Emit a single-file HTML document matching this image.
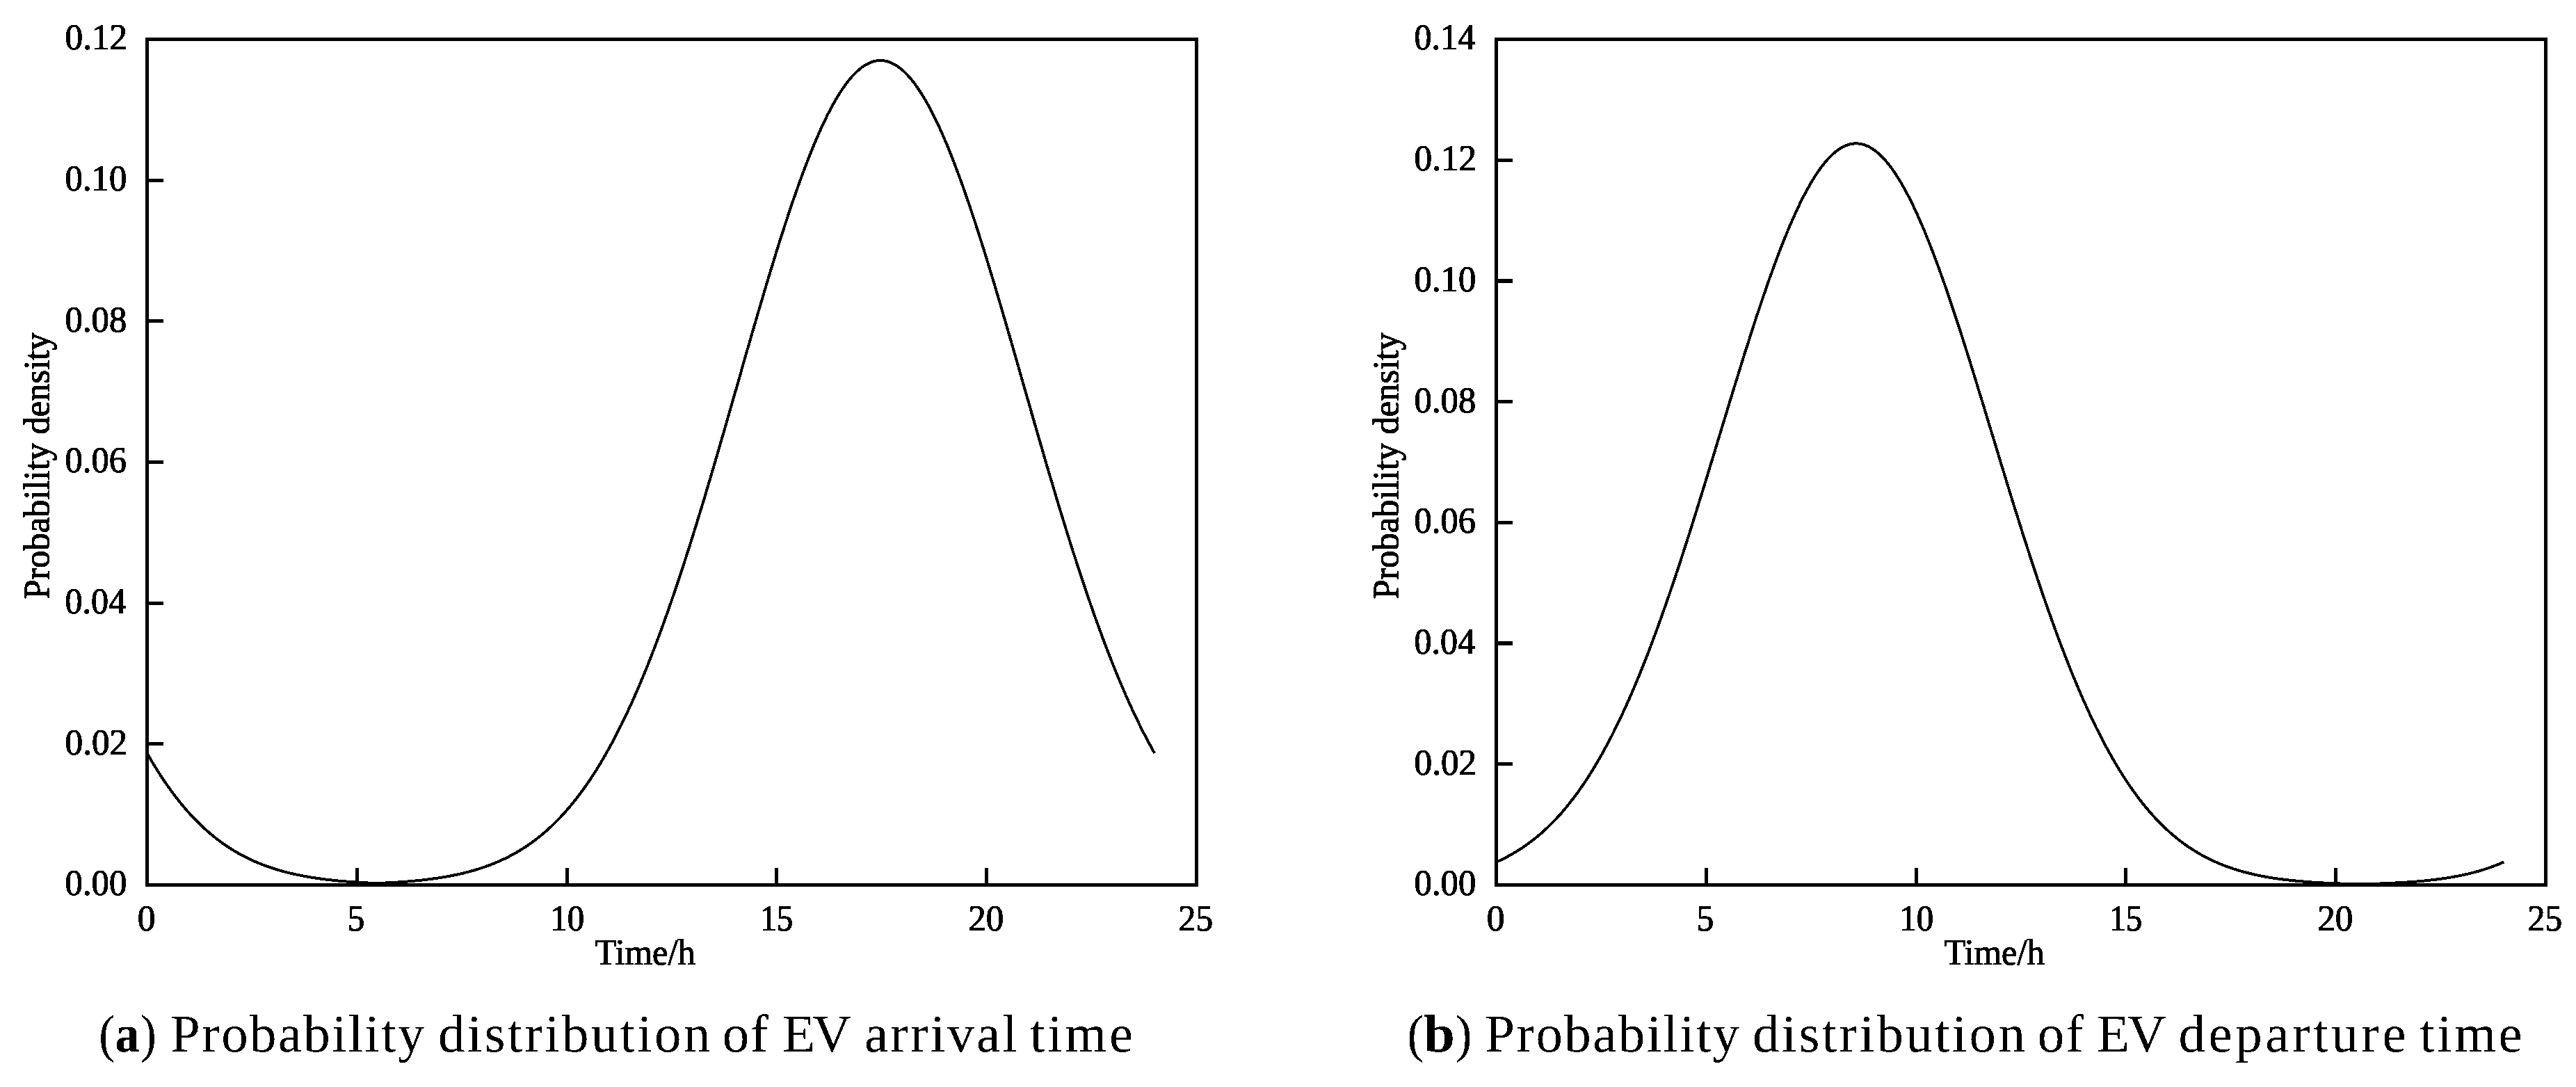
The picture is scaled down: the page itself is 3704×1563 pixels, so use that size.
<!DOCTYPE html>
<html><head><meta charset="utf-8"><title>EV arrival and departure time probability distributions</title>
<style>
html,body{margin:0;padding:0;background:#fff;}
body{width:3704px;height:1563px;overflow:hidden;}
svg{display:block;}
.t{font-family:"Liberation Serif","Times New Roman",serif;font-size:53.4px;fill:#000;stroke:#000;stroke-width:1.2px;}
.c{font-family:"Liberation Serif","Times New Roman",serif;font-size:77px;fill:#000;stroke:#000;stroke-width:0.0px;}
.b{font-weight:bold;}
</style></head>
<body>
<svg width="3704" height="1563" viewBox="0 0 3704 1563">
<defs><filter id="alias" x="0" y="0" width="100%" height="100%" filterUnits="userSpaceOnUse"><feComponentTransfer><feFuncA type="discrete" tableValues="0 1"/></feComponentTransfer></filter></defs>
<rect width="3704" height="1563" fill="#fff"/>
<g filter="url(#alias)">
<path d="M211.5,1083.0 L214.5,1088.3 L217.5,1093.4 L220.6,1098.5 L223.6,1103.4 L226.6,1108.3 L229.6,1113.0 L232.6,1117.6 L235.6,1122.2 L238.7,1126.6 L241.7,1130.9 L244.7,1135.1 L247.7,1139.3 L250.7,1143.3 L253.8,1147.3 L256.8,1151.1 L259.8,1154.9 L262.8,1158.5 L265.8,1162.1 L268.8,1165.6 L271.9,1169.0 L274.9,1172.3 L277.9,1175.5 L280.9,1178.6 L283.9,1181.7 L286.9,1184.7 L290.0,1187.6 L293.0,1190.4 L296.0,1193.1 L299.0,1195.8 L302.0,1198.4 L305.1,1200.9 L308.1,1203.4 L311.1,1205.8 L314.1,1208.1 L317.1,1210.3 L320.1,1212.5 L323.2,1214.6 L326.2,1216.7 L329.2,1218.7 L332.2,1220.6 L335.2,1222.5 L338.3,1224.3 L341.3,1226.1 L344.3,1227.8 L347.3,1229.4 L350.3,1231.0 L353.3,1232.6 L356.4,1234.1 L359.4,1235.5 L362.4,1236.9 L365.4,1238.3 L368.4,1239.6 L371.5,1240.9 L374.5,1242.1 L377.5,1243.3 L380.5,1244.4 L383.5,1245.5 L386.5,1246.6 L389.6,1247.6 L392.6,1248.6 L395.6,1249.6 L398.6,1250.5 L401.6,1251.4 L404.7,1252.3 L407.7,1253.1 L410.7,1253.9 L413.7,1254.7 L416.7,1255.4 L419.7,1256.1 L422.8,1256.8 L425.8,1257.5 L428.8,1258.1 L431.8,1258.7 L434.8,1259.3 L437.9,1259.9 L440.9,1260.4 L443.9,1261.0 L446.9,1261.5 L449.9,1262.0 L452.9,1262.4 L456.0,1262.9 L459.0,1263.3 L462.0,1263.7 L465.0,1264.1 L468.0,1264.5 L471.0,1264.9 L474.1,1265.2 L477.1,1265.5 L480.1,1265.9 L483.1,1266.2 L486.1,1266.5 L489.2,1266.7 L492.2,1267.0 L495.2,1267.3 L498.2,1267.5 L501.2,1267.7 L504.2,1268.0 L507.3,1268.2 L510.3,1268.4 L513.3,1268.6 L516.3,1268.8 L519.3,1269.0 L522.4,1269.1 L525.4,1269.3 L528.4,1269.5 L531.4,1269.6 L534.4,1269.8 L537.4,1269.9 L540.5,1270.0 L543.5,1270.0 L546.5,1269.9 L549.5,1269.7 L552.5,1269.6 L555.6,1269.4 L558.6,1269.3 L561.6,1269.1 L564.6,1268.9 L567.6,1268.7 L570.6,1268.6 L573.7,1268.4 L576.7,1268.2 L579.7,1267.9 L582.7,1267.7 L585.7,1267.5 L588.8,1267.2 L591.8,1267.0 L594.8,1266.7 L597.8,1266.4 L600.8,1266.1 L603.8,1265.8 L606.9,1265.5 L609.9,1265.1 L612.9,1264.8 L615.9,1264.4 L618.9,1264.0 L621.9,1263.6 L625.0,1263.2 L628.0,1262.8 L631.0,1262.3 L634.0,1261.9 L637.0,1261.4 L640.1,1260.9 L643.1,1260.3 L646.1,1259.8 L649.1,1259.2 L652.1,1258.6 L655.1,1258.0 L658.2,1257.4 L661.2,1256.7 L664.2,1256.0 L667.2,1255.3 L670.2,1254.5 L673.3,1253.7 L676.3,1252.9 L679.3,1252.1 L682.3,1251.2 L685.3,1250.3 L688.3,1249.4 L691.4,1248.4 L694.4,1247.4 L697.4,1246.4 L700.4,1245.3 L703.4,1244.2 L706.5,1243.0 L709.5,1241.8 L712.5,1240.6 L715.5,1239.3 L718.5,1238.0 L721.5,1236.6 L724.6,1235.2 L727.6,1233.8 L730.6,1232.3 L733.6,1230.7 L736.6,1229.1 L739.6,1227.4 L742.7,1225.7 L745.7,1223.9 L748.7,1222.1 L751.7,1220.2 L754.7,1218.3 L757.8,1216.3 L760.8,1214.2 L763.8,1212.1 L766.8,1209.9 L769.8,1207.6 L772.8,1205.3 L775.9,1202.9 L778.9,1200.4 L781.9,1197.9 L784.9,1195.3 L787.9,1192.6 L791.0,1189.8 L794.0,1187.0 L797.0,1184.1 L800.0,1181.1 L803.0,1178.0 L806.0,1174.9 L809.1,1171.6 L812.1,1168.3 L815.1,1164.9 L818.1,1161.4 L821.1,1157.8 L824.2,1154.1 L827.2,1150.3 L830.2,1146.5 L833.2,1142.5 L836.2,1138.5 L839.2,1134.3 L842.3,1130.1 L845.3,1125.7 L848.3,1121.3 L851.3,1116.7 L854.3,1112.1 L857.4,1107.3 L860.4,1102.4 L863.4,1097.5 L866.4,1092.4 L869.4,1087.2 L872.4,1081.9 L875.5,1076.5 L878.5,1071.0 L881.5,1065.4 L884.5,1059.7 L887.5,1053.8 L890.5,1047.9 L893.6,1041.8 L896.6,1035.7 L899.6,1029.4 L902.6,1023.0 L905.6,1016.4 L908.7,1009.8 L911.7,1003.1 L914.7,996.2 L917.7,989.2 L920.7,982.2 L923.7,975.0 L926.8,967.6 L929.8,960.2 L932.8,952.7 L935.8,945.0 L938.8,937.3 L941.9,929.4 L944.9,921.4 L947.9,913.4 L950.9,905.2 L953.9,896.9 L956.9,888.5 L960.0,880.0 L963.0,871.3 L966.0,862.6 L969.0,853.8 L972.0,844.9 L975.1,835.9 L978.1,826.8 L981.1,817.6 L984.1,808.4 L987.1,799.0 L990.1,789.6 L993.2,780.0 L996.2,770.4 L999.2,760.7 L1002.2,751.0 L1005.2,741.1 L1008.3,731.2 L1011.3,721.3 L1014.3,711.2 L1017.3,701.1 L1020.3,691.0 L1023.3,680.8 L1026.4,670.5 L1029.4,660.2 L1032.4,649.9 L1035.4,639.5 L1038.4,629.1 L1041.5,618.6 L1044.5,608.2 L1047.5,597.7 L1050.5,587.2 L1053.5,576.6 L1056.5,566.1 L1059.6,555.6 L1062.6,545.0 L1065.6,534.5 L1068.6,523.9 L1071.6,513.4 L1074.6,502.9 L1077.7,492.4 L1080.7,482.0 L1083.7,471.6 L1086.7,461.2 L1089.7,450.9 L1092.8,440.6 L1095.8,430.3 L1098.8,420.1 L1101.8,410.0 L1104.8,400.0 L1107.8,390.0 L1110.9,380.1 L1113.9,370.3 L1116.9,360.5 L1119.9,350.9 L1122.9,341.4 L1126.0,331.9 L1129.0,322.6 L1132.0,313.4 L1135.0,304.3 L1138.0,295.3 L1141.0,286.5 L1144.1,277.8 L1147.1,269.2 L1150.1,260.8 L1153.1,252.5 L1156.1,244.4 L1159.2,236.4 L1162.2,228.6 L1165.2,221.0 L1168.2,213.5 L1171.2,206.2 L1174.2,199.1 L1177.3,192.2 L1180.3,185.4 L1183.3,178.9 L1186.3,172.6 L1189.3,166.4 L1192.3,160.5 L1195.4,154.7 L1198.4,149.2 L1201.4,143.9 L1204.4,138.8 L1207.4,134.0 L1210.5,129.4 L1213.5,124.9 L1216.5,120.8 L1219.5,116.8 L1222.5,113.1 L1225.5,109.6 L1228.6,106.4 L1231.6,103.4 L1234.6,100.7 L1237.6,98.2 L1240.6,95.9 L1243.7,93.9 L1246.7,92.2 L1249.7,90.7 L1252.7,89.4 L1255.7,88.5 L1258.7,87.7 L1261.8,87.2 L1264.8,87.0 L1267.8,87.0 L1270.8,87.3 L1273.8,87.8 L1276.9,88.6 L1279.9,89.7 L1282.9,91.0 L1285.9,92.5 L1288.9,94.3 L1291.9,96.4 L1295.0,98.7 L1298.0,101.2 L1301.0,104.0 L1304.0,107.0 L1307.0,110.3 L1310.1,113.8 L1313.1,117.6 L1316.1,121.6 L1319.1,125.8 L1322.1,130.3 L1325.1,134.9 L1328.2,139.8 L1331.2,145.0 L1334.2,150.3 L1337.2,155.9 L1340.2,161.6 L1343.2,167.6 L1346.3,173.8 L1349.3,180.2 L1352.3,186.8 L1355.3,193.5 L1358.3,200.5 L1361.4,207.6 L1364.4,215.0 L1367.4,222.5 L1370.4,230.1 L1373.4,238.0 L1376.4,246.0 L1379.5,254.1 L1382.5,262.4 L1385.5,270.9 L1388.5,279.5 L1391.5,288.2 L1394.6,297.1 L1397.6,306.1 L1400.6,315.2 L1403.6,324.4 L1406.6,333.8 L1409.6,343.3 L1412.7,352.8 L1415.7,362.5 L1418.7,372.2 L1421.7,382.1 L1424.7,392.0 L1427.8,402.0 L1430.8,412.0 L1433.8,422.2 L1436.8,432.4 L1439.8,442.6 L1442.8,452.9 L1445.9,463.3 L1448.9,473.7 L1451.9,484.1 L1454.9,494.5 L1457.9,505.0 L1461.0,515.5 L1464.0,526.0 L1467.0,536.6 L1470.0,547.1 L1473.0,557.7 L1476.0,568.2 L1479.1,578.7 L1482.1,589.3 L1485.1,599.8 L1488.1,610.3 L1491.1,620.7 L1494.2,631.2 L1497.2,641.6 L1500.2,651.9 L1503.2,662.3 L1506.2,672.6 L1509.2,682.8 L1512.3,693.0 L1515.3,703.1 L1518.3,713.2 L1521.3,723.3 L1524.3,733.2 L1527.3,743.1 L1530.4,752.9 L1533.4,762.7 L1536.4,772.3 L1539.4,781.9 L1542.4,791.5 L1545.5,800.9 L1548.5,810.2 L1551.5,819.5 L1554.5,828.7 L1557.5,837.7 L1560.5,846.7 L1563.6,855.6 L1566.6,864.4 L1569.6,873.1 L1572.6,881.7 L1575.6,890.2 L1578.7,898.5 L1581.7,906.8 L1584.7,915.0 L1587.7,923.0 L1590.7,931.0 L1593.7,938.8 L1596.8,946.6 L1599.8,954.2 L1602.8,961.7 L1605.8,969.1 L1608.8,976.4 L1611.9,983.6 L1614.9,990.6 L1617.9,997.6 L1620.9,1004.4 L1623.9,1011.1 L1626.9,1017.8 L1630.0,1024.2 L1633.0,1030.6 L1636.0,1036.9 L1639.0,1043.0 L1642.0,1049.1 L1645.0,1055.0 L1648.1,1060.8 L1651.1,1066.5 L1654.1,1072.1 L1657.1,1077.6 L1660.1,1083.0" fill="none" stroke="#000" stroke-width="4" stroke-linejoin="round" shape-rendering="crispEdges"/>
<path d="M211.5,1069.83H235.0M211.5,867.17H235.0M211.5,664.50H235.0M211.5,461.83H235.0M211.5,259.17H235.0M513.30,1272.5V1248.0M815.10,1272.5V1248.0M1116.90,1272.5V1248.0M1418.70,1272.5V1248.0" stroke="#000" stroke-width="5" fill="none"/>
<rect x="211.5" y="56.5" width="1509.0" height="1216.0" fill="none" stroke="#000" stroke-width="5"/>
<text class="t" x="93.57" y="1287.38" textLength="88.76" lengthAdjust="spacingAndGlyphs">0.00</text>
<text class="t" x="93.55" y="1084.71" textLength="89.68" lengthAdjust="spacingAndGlyphs">0.02</text>
<text class="t" x="93.59" y="882.05" textLength="87.59" lengthAdjust="spacingAndGlyphs">0.04</text>
<text class="t" x="93.58" y="679.38" textLength="88.33" lengthAdjust="spacingAndGlyphs">0.06</text>
<text class="t" x="93.57" y="476.71" textLength="88.76" lengthAdjust="spacingAndGlyphs">0.08</text>
<text class="t" x="93.57" y="274.05" textLength="88.76" lengthAdjust="spacingAndGlyphs">0.10</text>
<text class="t" x="93.55" y="71.38" textLength="89.68" lengthAdjust="spacingAndGlyphs">0.12</text>
<text class="t" x="197.64" y="1337.70" textLength="25.72" lengthAdjust="spacingAndGlyphs">0</text>
<text class="t" x="499.62" y="1337.70" textLength="24.82" lengthAdjust="spacingAndGlyphs">5</text>
<text class="t" x="791.30" y="1337.70" textLength="48.97" lengthAdjust="spacingAndGlyphs">10</text>
<text class="t" x="1093.38" y="1337.70" textLength="46.85" lengthAdjust="spacingAndGlyphs">15</text>
<text class="t" x="1392.25" y="1337.70" textLength="51.09" lengthAdjust="spacingAndGlyphs">20</text>
<text class="t" x="1694.41" y="1337.70" textLength="49.84" lengthAdjust="spacingAndGlyphs">25</text>
<text class="t" x="855.60" y="1387.10" textLength="144.26" lengthAdjust="spacingAndGlyphs">Time/h</text>
<text class="t" transform="translate(70.50,860.7) rotate(-90)" x="-0.86" y="0" textLength="383.15" lengthAdjust="spacingAndGlyphs">Probability density</text>
<path d="M2151.5,1239.5 L2154.5,1238.2 L2157.5,1236.8 L2160.6,1235.3 L2163.6,1233.8 L2166.6,1232.3 L2169.6,1230.6 L2172.6,1229.0 L2175.6,1227.3 L2178.7,1225.5 L2181.7,1223.6 L2184.7,1221.7 L2187.7,1219.8 L2190.7,1217.8 L2193.8,1215.7 L2196.8,1213.5 L2199.8,1211.3 L2202.8,1209.0 L2205.8,1206.7 L2208.8,1204.2 L2211.9,1201.7 L2214.9,1199.2 L2217.9,1196.5 L2220.9,1193.8 L2223.9,1191.0 L2226.9,1188.1 L2230.0,1185.1 L2233.0,1182.1 L2236.0,1179.0 L2239.0,1175.8 L2242.0,1172.4 L2245.1,1169.1 L2248.1,1165.6 L2251.1,1162.0 L2254.1,1158.3 L2257.1,1154.6 L2260.1,1150.7 L2263.2,1146.8 L2266.2,1142.7 L2269.2,1138.6 L2272.2,1134.3 L2275.2,1130.0 L2278.3,1125.5 L2281.3,1121.0 L2284.3,1116.3 L2287.3,1111.6 L2290.3,1106.7 L2293.3,1101.7 L2296.4,1096.6 L2299.4,1091.4 L2302.4,1086.1 L2305.4,1080.7 L2308.4,1075.2 L2311.5,1069.6 L2314.5,1063.8 L2317.5,1058.0 L2320.5,1052.0 L2323.5,1045.9 L2326.5,1039.7 L2329.6,1033.4 L2332.6,1027.0 L2335.6,1020.5 L2338.6,1013.9 L2341.6,1007.1 L2344.7,1000.2 L2347.7,993.3 L2350.7,986.2 L2353.7,979.0 L2356.7,971.7 L2359.7,964.2 L2362.8,956.7 L2365.8,949.1 L2368.8,941.4 L2371.8,933.5 L2374.8,925.6 L2377.8,917.5 L2380.9,909.4 L2383.9,901.1 L2386.9,892.8 L2389.9,884.3 L2392.9,875.8 L2396.0,867.2 L2399.0,858.4 L2402.0,849.6 L2405.0,840.8 L2408.0,831.8 L2411.0,822.7 L2414.1,813.6 L2417.1,804.4 L2420.1,795.1 L2423.1,785.8 L2426.1,776.4 L2429.2,766.9 L2432.2,757.4 L2435.2,747.8 L2438.2,738.1 L2441.2,728.4 L2444.2,718.7 L2447.3,708.9 L2450.3,699.1 L2453.3,689.3 L2456.3,679.4 L2459.3,669.5 L2462.4,659.6 L2465.4,649.7 L2468.4,639.8 L2471.4,629.8 L2474.4,619.9 L2477.4,609.9 L2480.5,600.0 L2483.5,590.0 L2486.5,580.1 L2489.5,570.3 L2492.5,560.4 L2495.6,550.6 L2498.6,540.8 L2501.6,531.0 L2504.6,521.3 L2507.6,511.7 L2510.6,502.1 L2513.7,492.6 L2516.7,483.1 L2519.7,473.8 L2522.7,464.5 L2525.7,455.2 L2528.8,446.1 L2531.8,437.1 L2534.8,428.2 L2537.8,419.4 L2540.8,410.6 L2543.8,402.1 L2546.9,393.6 L2549.9,385.2 L2552.9,377.0 L2555.9,369.0 L2558.9,361.0 L2561.9,353.3 L2565.0,345.6 L2568.0,338.2 L2571.0,330.9 L2574.0,323.7 L2577.0,316.8 L2580.1,310.0 L2583.1,303.4 L2586.1,297.0 L2589.1,290.7 L2592.1,284.7 L2595.1,278.9 L2598.2,273.2 L2601.2,267.8 L2604.2,262.6 L2607.2,257.6 L2610.2,252.8 L2613.3,248.2 L2616.3,243.8 L2619.3,239.7 L2622.3,235.8 L2625.3,232.2 L2628.3,228.7 L2631.4,225.5 L2634.4,222.6 L2637.4,219.9 L2640.4,217.4 L2643.4,215.2 L2646.5,213.2 L2649.5,211.5 L2652.5,210.0 L2655.5,208.8 L2658.5,207.8 L2661.5,207.0 L2664.6,206.6 L2667.6,206.3 L2670.6,206.4 L2673.6,206.6 L2676.6,207.2 L2679.7,207.9 L2682.7,209.0 L2685.7,210.3 L2688.7,211.8 L2691.7,213.6 L2694.7,215.6 L2697.8,217.9 L2700.8,220.4 L2703.8,223.2 L2706.8,226.2 L2709.8,229.4 L2712.8,232.9 L2715.9,236.6 L2718.9,240.5 L2721.9,244.7 L2724.9,249.1 L2727.9,253.7 L2731.0,258.5 L2734.0,263.6 L2737.0,268.9 L2740.0,274.3 L2743.0,280.0 L2746.0,285.9 L2749.1,292.0 L2752.1,298.2 L2755.1,304.7 L2758.1,311.3 L2761.1,318.2 L2764.2,325.2 L2767.2,332.3 L2770.2,339.7 L2773.2,347.2 L2776.2,354.8 L2779.2,362.6 L2782.3,370.6 L2785.3,378.7 L2788.3,386.9 L2791.3,395.3 L2794.3,403.8 L2797.4,412.4 L2800.4,421.1 L2803.4,429.9 L2806.4,438.9 L2809.4,447.9 L2812.4,457.1 L2815.5,466.3 L2818.5,475.6 L2821.5,485.0 L2824.5,494.5 L2827.5,504.0 L2830.6,513.6 L2833.6,523.3 L2836.6,533.0 L2839.6,542.7 L2842.6,552.5 L2845.6,562.4 L2848.7,572.2 L2851.7,582.1 L2854.7,592.0 L2857.7,602.0 L2860.7,611.9 L2863.7,621.8 L2866.8,631.8 L2869.8,641.7 L2872.8,651.7 L2875.8,661.6 L2878.8,671.5 L2881.9,681.4 L2884.9,691.3 L2887.9,701.1 L2890.9,710.9 L2893.9,720.7 L2896.9,730.4 L2900.0,740.1 L2903.0,749.7 L2906.0,759.3 L2909.0,768.8 L2912.0,778.3 L2915.1,787.6 L2918.1,797.0 L2921.1,806.2 L2924.1,815.4 L2927.1,824.5 L2930.1,833.6 L2933.2,842.5 L2936.2,851.4 L2939.2,860.2 L2942.2,868.9 L2945.2,877.5 L2948.3,886.0 L2951.3,894.4 L2954.3,902.8 L2957.3,911.0 L2960.3,919.1 L2963.3,927.2 L2966.4,935.1 L2969.4,942.9 L2972.4,950.6 L2975.4,958.2 L2978.4,965.7 L2981.4,973.1 L2984.5,980.4 L2987.5,987.6 L2990.5,994.7 L2993.5,1001.6 L2996.5,1008.5 L2999.6,1015.2 L3002.6,1021.8 L3005.6,1028.3 L3008.6,1034.7 L3011.6,1041.0 L3014.6,1047.2 L3017.7,1053.2 L3020.7,1059.2 L3023.7,1065.0 L3026.7,1070.7 L3029.7,1076.3 L3032.8,1081.8 L3035.8,1087.2 L3038.8,1092.5 L3041.8,1097.7 L3044.8,1102.7 L3047.8,1107.7 L3050.9,1112.5 L3053.9,1117.3 L3056.9,1121.9 L3059.9,1126.4 L3062.9,1130.9 L3066.0,1135.2 L3069.0,1139.4 L3072.0,1143.5 L3075.0,1147.6 L3078.0,1151.5 L3081.0,1155.3 L3084.1,1159.1 L3087.1,1162.7 L3090.1,1166.3 L3093.1,1169.7 L3096.1,1173.1 L3099.2,1176.4 L3102.2,1179.6 L3105.2,1182.7 L3108.2,1185.7 L3111.2,1188.7 L3114.2,1191.6 L3117.3,1194.4 L3120.3,1197.1 L3123.3,1199.7 L3126.3,1202.3 L3129.3,1204.7 L3132.3,1207.1 L3135.4,1209.5 L3138.4,1211.8 L3141.4,1214.0 L3144.4,1216.1 L3147.4,1218.2 L3150.5,1220.2 L3153.5,1222.1 L3156.5,1224.0 L3159.5,1225.8 L3162.5,1227.6 L3165.5,1229.3 L3168.6,1231.0 L3171.6,1232.6 L3174.6,1234.1 L3177.6,1235.6 L3180.6,1237.1 L3183.7,1238.5 L3186.7,1239.8 L3189.7,1241.1 L3192.7,1242.4 L3195.7,1243.6 L3198.7,1244.8 L3201.8,1245.9 L3204.8,1247.0 L3207.8,1248.0 L3210.8,1249.1 L3213.8,1250.0 L3216.9,1251.0 L3219.9,1251.9 L3222.9,1252.8 L3225.9,1253.6 L3228.9,1254.4 L3231.9,1255.2 L3235.0,1255.9 L3238.0,1256.7 L3241.0,1257.4 L3244.0,1258.0 L3247.0,1258.7 L3250.1,1259.3 L3253.1,1259.9 L3256.1,1260.4 L3259.1,1261.0 L3262.1,1261.5 L3265.1,1262.0 L3268.2,1262.5 L3271.2,1262.9 L3274.2,1263.4 L3277.2,1263.8 L3280.2,1264.2 L3283.2,1264.6 L3286.3,1265.0 L3289.3,1265.3 L3292.3,1265.7 L3295.3,1266.0 L3298.3,1266.3 L3301.4,1266.6 L3304.4,1266.9 L3307.4,1267.2 L3310.4,1267.4 L3313.4,1267.7 L3316.4,1267.9 L3319.5,1268.1 L3322.5,1268.4 L3325.5,1268.6 L3328.5,1268.8 L3331.5,1269.0 L3334.6,1269.1 L3337.6,1269.3 L3340.6,1269.5 L3343.6,1269.6 L3346.6,1269.8 L3349.6,1269.9 L3352.7,1270.1 L3355.7,1270.2 L3358.7,1270.3 L3361.7,1270.4 L3364.7,1270.5 L3367.8,1270.6 L3370.8,1270.7 L3373.8,1270.8 L3376.8,1270.9 L3379.8,1271.0 L3382.8,1271.1 L3385.9,1271.2 L3388.9,1271.2 L3391.9,1271.3 L3394.9,1271.3 L3397.9,1271.2 L3401.0,1271.1 L3404.0,1271.1 L3407.0,1271.0 L3410.0,1270.9 L3413.0,1270.8 L3416.0,1270.7 L3419.1,1270.6 L3422.1,1270.5 L3425.1,1270.4 L3428.1,1270.3 L3431.1,1270.2 L3434.2,1270.0 L3437.2,1269.9 L3440.2,1269.7 L3443.2,1269.6 L3446.2,1269.4 L3449.2,1269.3 L3452.3,1269.1 L3455.3,1268.9 L3458.3,1268.7 L3461.3,1268.5 L3464.3,1268.3 L3467.3,1268.1 L3470.4,1267.9 L3473.4,1267.6 L3476.4,1267.4 L3479.4,1267.1 L3482.4,1266.8 L3485.5,1266.6 L3488.5,1266.3 L3491.5,1265.9 L3494.5,1265.6 L3497.5,1265.3 L3500.5,1264.9 L3503.6,1264.5 L3506.6,1264.1 L3509.6,1263.7 L3512.6,1263.3 L3515.6,1262.9 L3518.7,1262.4 L3521.7,1261.9 L3524.7,1261.4 L3527.7,1260.9 L3530.7,1260.3 L3533.7,1259.8 L3536.8,1259.2 L3539.8,1258.5 L3542.8,1257.9 L3545.8,1257.2 L3548.8,1256.5 L3551.9,1255.8 L3554.9,1255.0 L3557.9,1254.3 L3560.9,1253.4 L3563.9,1252.6 L3566.9,1251.7 L3570.0,1250.8 L3573.0,1249.8 L3576.0,1248.9 L3579.0,1247.8 L3582.0,1246.8 L3585.1,1245.7 L3588.1,1244.5 L3591.1,1243.4 L3594.1,1242.1 L3597.1,1240.9 L3600.1,1239.5" fill="none" stroke="#000" stroke-width="4" stroke-linejoin="round" shape-rendering="crispEdges"/>
<path d="M2151.5,1098.79H2175.0M2151.5,925.07H2175.0M2151.5,751.36H2175.0M2151.5,577.64H2175.0M2151.5,403.93H2175.0M2151.5,230.21H2175.0M2453.30,1272.5V1248.0M2755.10,1272.5V1248.0M3056.90,1272.5V1248.0M3358.70,1272.5V1248.0" stroke="#000" stroke-width="5" fill="none"/>
<rect x="2151.5" y="56.5" width="1509.0" height="1216.0" fill="none" stroke="#000" stroke-width="5"/>
<text class="t" x="2033.57" y="1287.38" textLength="88.76" lengthAdjust="spacingAndGlyphs">0.00</text>
<text class="t" x="2033.55" y="1113.66" textLength="89.68" lengthAdjust="spacingAndGlyphs">0.02</text>
<text class="t" x="2033.59" y="939.95" textLength="87.59" lengthAdjust="spacingAndGlyphs">0.04</text>
<text class="t" x="2033.58" y="766.24" textLength="88.33" lengthAdjust="spacingAndGlyphs">0.06</text>
<text class="t" x="2033.57" y="592.52" textLength="88.76" lengthAdjust="spacingAndGlyphs">0.08</text>
<text class="t" x="2033.57" y="418.81" textLength="88.76" lengthAdjust="spacingAndGlyphs">0.10</text>
<text class="t" x="2033.55" y="245.09" textLength="89.68" lengthAdjust="spacingAndGlyphs">0.12</text>
<text class="t" x="2033.59" y="71.38" textLength="87.59" lengthAdjust="spacingAndGlyphs">0.14</text>
<text class="t" x="2137.64" y="1337.70" textLength="25.72" lengthAdjust="spacingAndGlyphs">0</text>
<text class="t" x="2439.62" y="1337.70" textLength="24.82" lengthAdjust="spacingAndGlyphs">5</text>
<text class="t" x="2731.30" y="1337.70" textLength="48.97" lengthAdjust="spacingAndGlyphs">10</text>
<text class="t" x="3033.38" y="1337.70" textLength="46.85" lengthAdjust="spacingAndGlyphs">15</text>
<text class="t" x="3332.25" y="1337.70" textLength="51.09" lengthAdjust="spacingAndGlyphs">20</text>
<text class="t" x="3634.41" y="1337.70" textLength="49.84" lengthAdjust="spacingAndGlyphs">25</text>
<text class="t" x="2795.60" y="1387.10" textLength="144.26" lengthAdjust="spacingAndGlyphs">Time/h</text>
<text class="t" transform="translate(2010.50,860.7) rotate(-90)" x="-0.86" y="0" textLength="383.15" lengthAdjust="spacingAndGlyphs">Probability density</text>
<text class="c" x="141.89" y="1511.50" textLength="23.60" lengthAdjust="spacingAndGlyphs">(</text>
<text class="c b" x="165.31" y="1511.50" textLength="35.46" lengthAdjust="spacingAndGlyphs">a</text>
<text class="c" x="201.88" y="1511.50" textLength="22.95" lengthAdjust="spacingAndGlyphs">)</text>
<text class="c" x="245.08" y="1511.50" textLength="365.42" lengthAdjust="spacing">Probability</text>
<text class="c" x="630.02" y="1511.50" textLength="391.25" lengthAdjust="spacing">distribution</text>
<text class="c" x="1038.67" y="1511.50" textLength="66.03" lengthAdjust="spacing">of</text>
<text class="c" x="1125.18" y="1511.50" textLength="98.98" lengthAdjust="spacing">EV</text>
<text class="c" x="1242.89" y="1511.50" textLength="219.75" lengthAdjust="spacing">arrival</text>
<text class="c" x="1481.05" y="1511.50" textLength="148.02" lengthAdjust="spacing">time</text>
<text class="c" x="2023.27" y="1511.50" textLength="24.51" lengthAdjust="spacingAndGlyphs">(</text>
<text class="c b" x="2046.87" y="1511.50" textLength="45.23" lengthAdjust="spacingAndGlyphs">b</text>
<text class="c" x="2092.23" y="1511.50" textLength="24.51" lengthAdjust="spacingAndGlyphs">)</text>
<text class="c" x="2135.28" y="1511.50" textLength="365.92" lengthAdjust="spacing">Probability</text>
<text class="c" x="2519.92" y="1511.50" textLength="392.05" lengthAdjust="spacing">distribution</text>
<text class="c" x="2929.87" y="1511.50" textLength="65.93" lengthAdjust="spacing">of</text>
<text class="c" x="3015.08" y="1511.50" textLength="99.48" lengthAdjust="spacing">EV</text>
<text class="c" x="3132.42" y="1511.50" textLength="327.25" lengthAdjust="spacing">departure</text>
<text class="c" x="3479.25" y="1511.50" textLength="147.52" lengthAdjust="spacing">time</text>
</g>
</svg>
</body></html>
